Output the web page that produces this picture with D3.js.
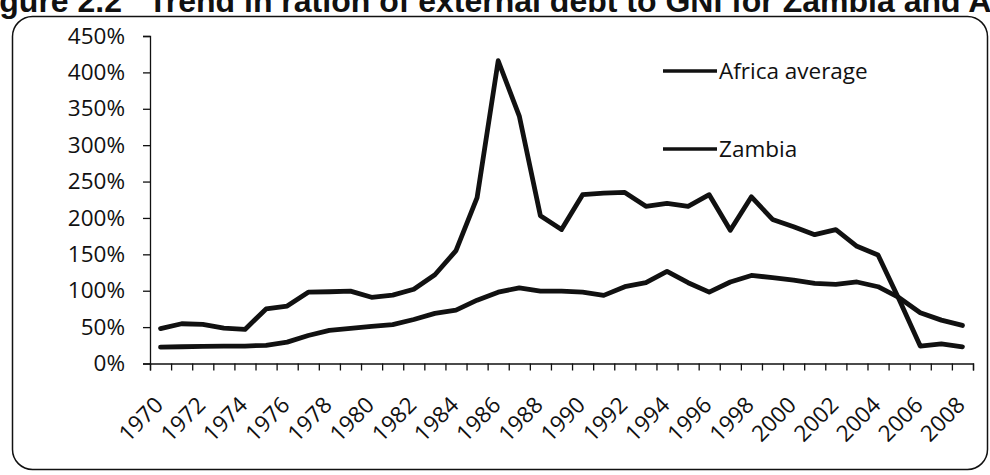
<!DOCTYPE html>
<html>
<head>
<meta charset="utf-8">
<script src="https://cdn.jsdelivr.net/npm/d3@7"></script>
<style>
  html, body { margin: 0; padding: 0; background: #fff; overflow: hidden; }
  svg { display: block; }
</style>
</head>
<body>
<svg id="chart" width="990" height="475"></svg>
<script>
// ---- data ----
const years = [1970,1971,1972,1973,1974,1975,1976,1977,1978,1979,
               1980,1981,1982,1983,1984,1985,1986,1987,1988,1989,
               1990,1991,1992,1993,1994,1995,1996,1997,1998,1999,
               2000,2001,2002,2003,2004,2005,2006,2007,2008];
const zambia = [48,54.6,53.7,48.6,46.8,75,78.9,98,98.6,99.5,
                91,94,102,122,155,228,416,340,203,184,
                232,234,235,216,220,216,232,183,229,198,
                188,177,184,161,149,88,24,27,23];
const africaAverage = [22.5,23,23.4,24,24,25,29.4,38.5,45.4,48.2,
                       51,53.5,60.5,68.8,73.4,87,98,104,99.5,99.5,
                       98,93.6,105.5,111,126.5,111,98,112,121,118,
                       114.7,110,108.7,112,105.5,90.4,69.7,59.6,52.3];
const yTicks = [0,50,100,150,200,250,300,350,400,450];
const xTickLabels = ["1970","1972","1974","1976","1978","1980","1982","1984","1986","1988",
                     "1990","1992","1994","1996","1998","2000","2002","2004","2006","2008"];
const seriesNames = ["Africa average", "Zambia"];
const titleLead = "Figure 2.2";
const titleText = "Trend in ration of external debt to GNI for Zambia and Africa";

// ---- layout ----
const svg = d3.select("#chart");
const ink = "#111";
const plotL = 150, plotR = 973, plotT = 36, plotB = 363.5;
const font = "'Open Sans', sans-serif";
const titleFont = "'Liberation Sans', Arial, sans-serif";

// title (partly cut off at the page edges, as in the scanned reference)
svg.append("text").attr("x", 122).attr("y", 12).attr("text-anchor", "end")
  .attr("font-family", titleFont).attr("font-weight", "bold")
  .attr("font-size", 32).attr("fill", ink).text(titleLead);
svg.append("text").attr("x", 148).attr("y", 12)
  .attr("font-family", titleFont).attr("font-weight", "bold")
  .attr("font-size", 32).attr("fill", ink).text(titleText);

// chart frame
svg.append("rect").attr("x", 12.5).attr("y", 16.5).attr("width", 975).attr("height", 453)
  .attr("rx", 20).attr("ry", 20).attr("fill", "none").attr("stroke", ink).attr("stroke-width", 1.5);

// scales
const x = d3.scaleBand().domain(years).range([plotL, plotR]).paddingInner(0).paddingOuter(0);
const xEdge = d3.scaleLinear().domain([0, years.length]).range([plotL, plotR]);
const y = d3.scaleLinear().domain([0, 450]).range([plotB, plotT]);
const cx = d => x(d) + x.bandwidth() / 2;

// y axis
const yAxis = svg.append("g").attr("transform", `translate(${plotL},0)`)
  .call(d3.axisLeft(y).tickValues(yTicks).tickSize(7).tickPadding(18).tickFormat(d => d + "%"));
yAxis.selectAll("path, line").attr("stroke", ink).attr("stroke-width", 1.3);
yAxis.selectAll("text").attr("font-family", font).attr("font-size", 22.5).attr("fill", ink);

// x axis: ticks on category boundaries
const xAxis = svg.append("g").attr("transform", `translate(0,${plotB})`)
  .call(d3.axisBottom(xEdge).tickValues(d3.range(years.length + 1)).tickSize(7).tickFormat(""));
xAxis.selectAll("path, line").attr("stroke", ink).attr("stroke-width", 1.3);

// x labels (rotated)
svg.append("g").selectAll("text").data(xTickLabels).join("text")
  .attr("transform", d => `translate(${cx(+d) + 4},${plotB + 43}) rotate(-45)`)
  .attr("text-anchor", "end")
  .attr("font-family", font).attr("font-size", 22.5).attr("fill", ink)
  .text(d => d);

// lines
const line = d3.line().x((d, i) => cx(years[i])).y(d => y(d));
[africaAverage, zambia].forEach(s => {
  svg.append("path").datum(s).attr("d", line)
    .attr("fill", "none").attr("stroke", ink).attr("stroke-width", 4.8)
    .attr("stroke-linejoin", "round").attr("stroke-linecap", "round");
});

// legend
const legendY = [71, 149];
const lg = svg.append("g");
seriesNames.forEach((name, i) => {
  lg.append("line").attr("x1", 663).attr("x2", 717).attr("y1", legendY[i]).attr("y2", legendY[i])
    .attr("stroke", ink).attr("stroke-width", 3.5);
  lg.append("text").attr("x", 719).attr("y", legendY[i]).attr("dy", "0.36em")
    .attr("font-family", font).attr("font-size", 22.5).attr("fill", ink).text(name);
});
</script>
</body>
</html>
